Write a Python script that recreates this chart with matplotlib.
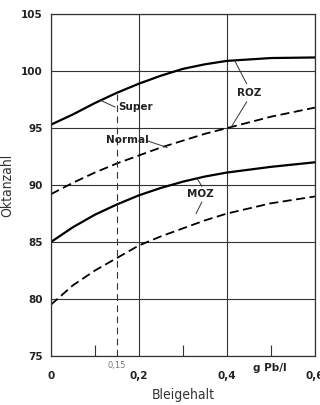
import matplotlib.pyplot as plt
import numpy as np

# Bleigehalt in g Pb/l
blei = [0.0, 0.05, 0.1, 0.15, 0.2, 0.25, 0.3, 0.35, 0.4, 0.5, 0.6]
roz_super = [95.3, 96.2, 97.2, 98.1, 98.9, 99.6, 100.2, 100.6, 100.9, 101.15, 101.2]
roz_normal = [89.2, 90.2, 91.1, 91.9, 92.6, 93.3, 93.9, 94.5, 95.0, 96.0, 96.8]
moz_super = [85.0, 86.3, 87.4, 88.3, 89.1, 89.75, 90.3, 90.75, 91.1, 91.6, 92.0]
moz_normal = [79.5, 81.2, 82.5, 83.6, 84.7, 85.5, 86.2, 86.9, 87.5, 88.4, 89.0]

xticks = [0, 0.2, 0.4, 0.6]
xticklabels = ['0', '0,2', '0,4', '0,6']
yticks = [75, 80, 85, 90, 95, 100, 105]

fig = plt.figure(figsize=(3.2, 4.05), dpi=100)
ax = fig.add_axes([0.159, 0.121, 0.825, 0.844])

ax.plot(blei, roz_super, color='black', lw=1.6)
ax.plot(blei, roz_normal, color='black', lw=1.3, dashes=(5, 2.5))
ax.plot(blei, moz_super, color='black', lw=1.6)
ax.plot(blei, moz_normal, color='black', lw=1.3, dashes=(5, 2.5))

# Markierung bei 0,15 g Pb/l
ax.plot([0.15, 0.15], [75, 98], color='#333333', lw=0.8, dashes=(6, 4))

ax.set_xlim(0, 0.6)
ax.set_ylim(75, 105)
ax.set_xticks(xticks)
ax.set_xticklabels(xticklabels)
ax.set_yticks(yticks)
ax.set_xticks([0.1, 0.3, 0.5], minor=True)
ax.tick_params(axis='both', which='major', length=0, labelsize=7.5, pad=6)
ax.tick_params(axis='x', which='major', pad=11)
ax.tick_params(axis='x', which='minor', direction='in', length=8, width=0.8, color='#333333')
for lab in ax.get_xticklabels() + ax.get_yticklabels():
    lab.set_fontweight('bold')
    lab.set_color('#222222')

ax.grid(True, which='major', color='#333333', lw=0.8)
for s in ax.spines.values():
    s.set_color('#333333')
    s.set_linewidth(0.9)

ax.set_xlabel('Bleigehalt', fontsize=10, fontstretch='condensed', color='#333333', labelpad=5)
ax.set_ylabel('Oktanzahl', fontsize=10, fontstretch='condensed', color='#333333', labelpad=5)

ax.text(0.15, 74.6, '0,15', fontsize=6, color='#777777', ha='center', va='top')
ax.text(0.497, 74.4, 'g Pb/l', fontsize=7.5, fontweight='bold', color='#222222', ha='center', va='top')

# Beschriftungen mit Hinweislinien
ax.text(0.152, 96.85, 'Super', fontsize=7.5, fontweight='bold', color='#222222', ha='left', va='center')
ax.plot([0.112, 0.146], [97.45, 96.85], color='#333333', lw=0.7)

ax.text(0.125, 94.0, 'Normal', fontsize=7.5, fontweight='bold', color='#222222', ha='left', va='center')
ax.plot([0.218, 0.264], [93.9, 93.3], color='#333333', lw=0.7)

ax.text(0.45, 98.1, 'ROZ', fontsize=7.5, fontweight='bold', color='#222222', ha='center', va='center')
ax.plot([0.418, 0.445], [100.9, 98.9], color='#333333', lw=0.7)
ax.plot([0.445, 0.41], [97.3, 95.1], color='#333333', lw=0.7)

ax.text(0.34, 89.2, 'MOZ', fontsize=7.5, fontweight='bold', color='#222222', ha='center', va='center')
ax.plot([0.332, 0.343], [90.6, 89.9], color='#333333', lw=0.7)
ax.plot([0.343, 0.330], [88.5, 87.5], color='#333333', lw=0.7)

fig.savefig('out.png', dpi=100)
